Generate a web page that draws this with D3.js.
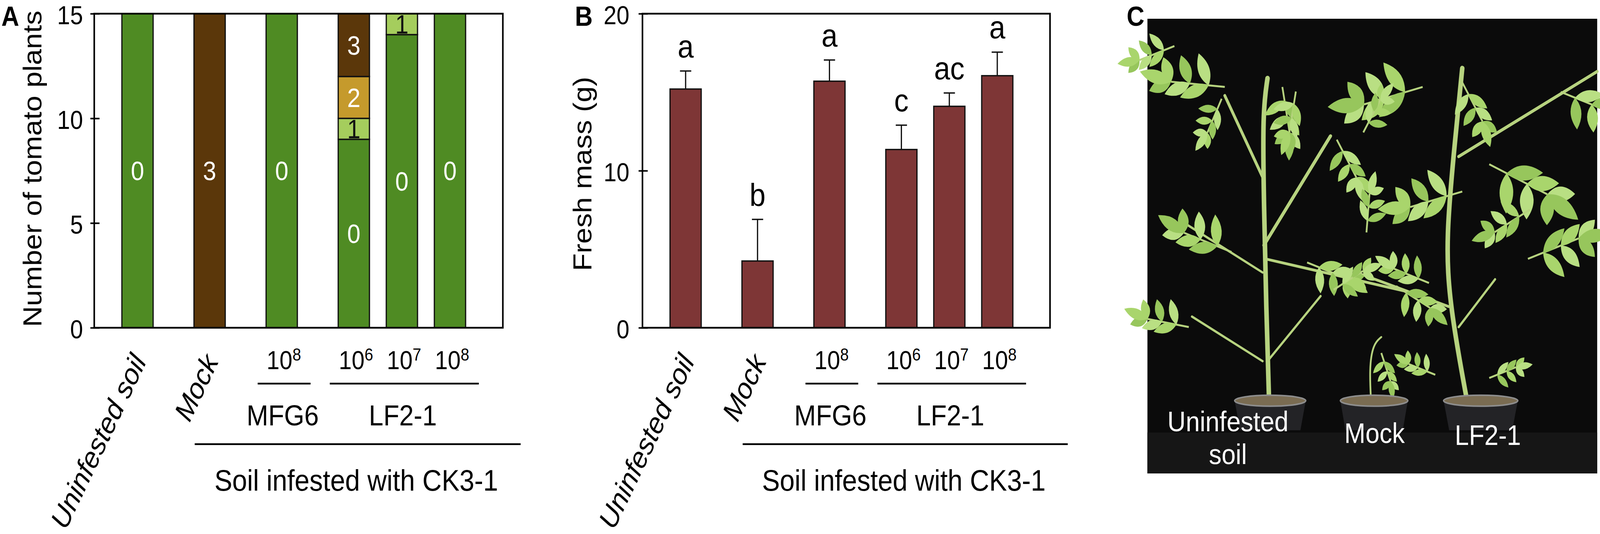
<!DOCTYPE html>
<html><head><meta charset="utf-8">
<script src="https://cdn.jsdelivr.net/npm/d3@7/dist/d3.min.js"></script>
<style>
html,body{margin:0;padding:0;background:#fff;overflow:hidden;width:100%;height:100%}
svg{display:block;width:100vw;height:100vh}
</style>
</head><body>
<svg id="fig" viewBox="0 0 4550 1367" preserveAspectRatio="none"></svg>
<script>
// ---------------- DATA ----------------
const categories   = ["Uninfested soil", "Mock", "MFG6 10^8", "LF2-1 10^6", "LF2-1 10^7", "LF2-1 10^8"];
const catGroup     = ["Uninfested", "Mock", "MFG6", "LF2-1", "LF2-1", "LF2-1"];
const catRotLabel  = ["Uninfested soil", "Mock", null, null, null, null];
const doseExponent = [null, null, "8", "6", "7", "8"];
const infestedLabel = "Soil infested with CK3-1";

// Panel A: number of plants per disease score (stack bottom -> top: 0,1,2,3)
const diseaseScores = ["0", "1", "2", "3"];
const plantsScore0 = [15, 0, 15, 9, 14, 15];
const plantsScore1 = [0, 0, 0, 1, 1, 0];
const plantsScore2 = [0, 0, 0, 2, 0, 0];
const plantsScore3 = [0, 15, 0, 3, 0, 0];
const ticksA = [0, 5, 10, 15];

// Panel B: fresh mass (g), SD, significance letters
const freshMass   = [15.2, 4.25, 15.7, 11.35, 14.1, 16.05];
const freshMassSD = [1.15, 2.65, 1.35, 1.55, 0.85, 1.5];
const sigLetters  = ["a", "b", "a", "c", "ac", "a"];
const ticksB = [0, 10, 20];

// Panel C: photo captions
const photoCaptions = [["Uninfested", "soil"], ["Mock"], ["LF2-1"]];

// ---------------- STYLE / LAYOUT ----------------
const FONT = '"Liberation Sans", Arial, Helvetica, sans-serif';
const scoreColor = {"0": "#4f8b23", "1": "#a5cd5d", "2": "#c59a2c", "3": "#5b370a"};
const scoreTextColor = {"0": "#fff", "1": "#111", "2": "#fff", "3": "#fff"};
const barB = "#7e3636";
const TOP = 35, BOTTOM = 839;

const svg = d3.select("#fig");

// category positions: 1.5 spacing between groups, 1 inside a group
const pos = [];
catGroup.forEach((g, i) => {
  pos.push(i === 0 ? 0 : pos[i - 1] + (g === catGroup[i - 1] ? 1 : 1.5));
});
const BARW = 0.65;

function makeX(r0, r1) { return d3.scaleLinear().domain([-0.9, 7.6]).range([r0, r1]); }

function drawYAxis(g, x0, y, ticks, pad) {
  const ax = g.append("g").attr("transform", `translate(${x0},0)`)
    .call(d3.axisLeft(y).tickValues(ticks).tickSize(11).tickPadding(pad));
  ax.select(".domain").remove();
  ax.attr("font-family", FONT).attr("font-size", 66);
  ax.selectAll(".tick line").attr("x1", 15).attr("stroke", "#000").attr("stroke-width", 4);
  ax.selectAll(".tick text").attr("fill", "#000").attr("dy", "0.4em");
}

function drawXAnnot(g, x) {
  // rotated italic category labels
  categories.forEach((c, i) => {
    if (!catRotLabel[i]) return;
    g.append("text")
      .attr("transform", `translate(${x(pos[i]) + 27},925) rotate(-62)`)
      .attr("text-anchor", "end").attr("font-style", "italic")
      .attr("font-family", FONT).attr("font-size", 75).text(catRotLabel[i]);
  });
  // dose labels 10^n
  categories.forEach((c, i) => {
    if (!doseExponent[i]) return;
    const t = g.append("text").attr("x", x(pos[i]) + 6).attr("y", 945)
      .attr("text-anchor", "middle").attr("font-family", FONT).attr("font-size", 66);
    t.append("tspan").text("10");
    t.append("tspan").attr("font-size", 44).attr("dy", -22).text(doseExponent[i]);
  });
  // strain brackets
  const strains = ["MFG6", "LF2-1"];
  strains.forEach(s => {
    const idx = catGroup.map((g2, i) => g2 === s ? i : -1).filter(i => i >= 0);
    const a = pos[idx[0]], b = pos[idx[idx.length - 1]];
    g.append("line").attr("x1", x(a - 0.5)).attr("x2", x(b + 0.6))
      .attr("y1", 982).attr("y2", 982).attr("stroke", "#000").attr("stroke-width", 4.5);
    g.append("text").attr("x", x(d3.mean(idx, i => pos[i]) + 0.02)).attr("y", 1089)
      .attr("text-anchor", "middle").attr("font-family", FONT).attr("font-size", 74).text(s);
  });
  // infested bracket
  const inf = catGroup.map((g2, i) => g2 !== "Uninfested" ? i : -1).filter(i => i >= 0);
  const l0 = x(pos[inf[0]] - 0.31), l1 = x(pos[inf[inf.length - 1]] + 1.47);
  g.append("line").attr("x1", l0).attr("x2", l1).attr("y1", 1137).attr("y2", 1137)
    .attr("stroke", "#000").attr("stroke-width", 4.5);
  g.append("text").attr("x", (l0 + l1) / 2 - 4).attr("y", 1256)
    .attr("text-anchor", "middle").attr("font-family", FONT).attr("font-size", 76).text(infestedLabel);
}

// ---------------- PANEL A ----------------
{
  const g = svg.append("g");
  const x = makeX(268, 1430);
  const y = d3.scaleLinear().domain([0, 15]).range([BOTTOM, TOP]);
  const rows = categories.map((c, i) => ({
    i, "0": plantsScore0[i], "1": plantsScore1[i], "2": plantsScore2[i], "3": plantsScore3[i]
  }));
  const series = d3.stack().keys(diseaseScores)(rows);
  series.forEach(s => {
    s.forEach(d => {
      if (d[1] - d[0] <= 0) return;
      const cx = x(pos[d.data.i]);
      const w = x(BARW) - x(0);
      g.append("rect").attr("x", cx - w / 2).attr("width", w)
        .attr("y", y(d[1])).attr("height", y(d[0]) - y(d[1]))
        .attr("fill", scoreColor[s.key]).attr("stroke", "#111").attr("stroke-width", 3.5);
    });
  });
  series.forEach(s => {
    s.forEach(d => {
      if (d[1] - d[0] <= 0) return;
      g.append("text").attr("x", x(pos[d.data.i])).attr("y", y((d[0] + d[1]) / 2))
        .attr("dy", "0.36em").attr("text-anchor", "middle")
        .attr("font-family", FONT).attr("font-size", 68)
        .attr("fill", scoreTextColor[s.key]).text(s.key);
    });
  });
  g.append("rect").attr("x", 268).attr("y", TOP).attr("width", 1430 - 268).attr("height", BOTTOM - TOP)
    .attr("fill", "none").attr("stroke", "#000").attr("stroke-width", 4.5);
  drawYAxis(g, 268, y, ticksA, 21);
  g.append("text").attr("transform", `translate(118,432) rotate(-90)`)
    .attr("text-anchor", "middle").attr("font-family", FONT).attr("font-size", 74)
    .text("Number of tomato plants");
  g.append("text").attr("x", 4).attr("y", 66).attr("font-family", FONT)
    .attr("font-weight", "bold").attr("font-size", 70).text("A");
  drawXAnnot(g, x);
}

// ---------------- PANEL B ----------------
{
  const g = svg.append("g");
  const x = makeX(1827, 2986);
  const y = d3.scaleLinear().domain([0, 20]).range([BOTTOM, TOP]);
  const w = x(BARW) - x(0);
  freshMass.forEach((v, i) => {
    const cx = x(pos[i]);
    const top = y(v), et = y(v + freshMassSD[i]);
    g.append("line").attr("x1", cx).attr("x2", cx).attr("y1", top).attr("y2", et)
      .attr("stroke", "#111").attr("stroke-width", 3.5);
    g.append("line").attr("x1", cx - 16).attr("x2", cx + 16).attr("y1", et).attr("y2", et)
      .attr("stroke", "#111").attr("stroke-width", 3.5);
    g.append("rect").attr("x", cx - w / 2).attr("width", w).attr("y", top)
      .attr("height", y(0) - top).attr("fill", barB).attr("stroke", "#111").attr("stroke-width", 3.5);
    g.append("text").attr("x", cx).attr("y", et - 35).attr("text-anchor", "middle")
      .attr("font-family", FONT).attr("font-size", 82).text(sigLetters[i]);
  });
  g.append("rect").attr("x", 1827).attr("y", TOP).attr("width", 2986 - 1827).attr("height", BOTTOM - TOP)
    .attr("fill", "none").attr("stroke", "#000").attr("stroke-width", 4.5);
  drawYAxis(g, 1827, y, ticksB, 26);
  g.append("text").attr("transform", `translate(1682,445) rotate(-90)`)
    .attr("text-anchor", "middle").attr("font-family", FONT).attr("font-size", 74)
    .text("Fresh mass (g)");
  g.append("text").attr("x", 1635).attr("y", 66).attr("font-family", FONT)
    .attr("font-weight", "bold").attr("font-size", 70).text("B");
  drawXAnnot(g, x);
}

// ---------------- PANEL C (photo sketch) ----------------
{
  const g = svg.append("g");
  const PX0 = 3263, PX1 = 4542, PY0 = 48, PY1 = 1212;
  const pu = d3.scaleLinear().domain([0, 1000]).range([PX0, PX1]);
  const pv = d3.scaleLinear().domain([0, 1000]).range([PY0, PY1]);
  const k = (PX1 - PX0) / 1000;
  g.append("text").attr("x", 3204).attr("y", 66).attr("font-family", FONT)
    .attr("font-weight", "bold").attr("font-size", 70).text("C");
  g.append("rect").attr("x", PX0).attr("y", PY0).attr("width", PX1 - PX0).attr("height", PY1 - PY0)
    .attr("fill", "#0b0b0b");
  g.append("rect").attr("x", PX0).attr("y", pv(910)).attr("width", PX1 - PX0).attr("height", PY1 - pv(910))
    .attr("fill", "#161616");

  // stylised plants (photo units 0-1000)
  const stems = [
    {w: 13, p: [[271, 858], [264, 633], [259, 408], [256, 206], [267, 131]]},
    {w: 8, p: [[256, 348], [172, 169]]},
    {w: 9, p: [[259, 498], [407, 258]]},
    {w: 6, p: [[256, 753], [99, 655]]},
    {w: 6, p: [[267, 753], [385, 610]]},
    {w: 7, p: [[262, 528], [590, 603]]},
    {w: 6, p: [[256, 558], [77, 446]]},
    {w: 13, p: [[714, 858], [672, 633], [663, 483], [685, 258], [700, 109]]},
    {w: 8, p: [[692, 303], [1000, 116]]},
    {w: 7, p: [[670, 633], [465, 558]]},
    {w: 6, p: [[692, 678], [773, 573]]},
    {w: 5, p: [[498, 854], [493, 768], [502, 715], [520, 700]]}
  ];
  // compound leaves: [u, v, size, direction in degrees (0 = right, 90 = down)]
  const fronds = [
    [172, 150, 80, 185], [165, 176, 50, 115], [300, 150, 62, 80], [330, 160, 55, 100],
    [421, 266, 58, 60], [187, 513, 75, 200], [355, 536, 62, 20], [487, 470, 52, 275],
    [553, 588, 58, 30], [92, 678, 62, 190], [414, 596, 50, 330], [612, 150, 90, 165],
    [700, 140, 60, 60], [919, 161, 75, 20], [760, 320, 95, 25], [700, 380, 80, 165],
    [626, 581, 55, 200], [846, 528, 80, 340], [640, 783, 42, 200], [760, 790, 42, 340],
    [520, 735, 40, 70], [60, 60, 55, 160], [480, 250, 50, 300], [850, 420, 60, 150]
  ];
  const line = d3.line().curve(d3.curveBasis).x(d => pu(d[0])).y(d => pv(d[1]));
  stems.forEach(s => g.append("path").attr("d", line(s.p)).attr("fill", "none")
    .attr("stroke", "#b7d37f").attr("stroke-width", s.w).attr("stroke-linecap", "round"));
  const leafCols = ["#a9d56c", "#b9df83", "#97c65c"];
  function leaf(bx, by, ang, L, W, col) {
    const ux = Math.cos(ang), uy = Math.sin(ang);
    const tx = bx + ux * L, ty = by + uy * L;
    const mx = bx + ux * L * 0.45, my = by + uy * L * 0.45;
    const px = -uy * W, py = ux * W;
    g.append("path")
      .attr("d", `M${bx},${by}Q${mx + px},${my + py} ${tx},${ty}Q${mx - px},${my - py} ${bx},${by}Z`)
      .attr("fill", col);
  }
  fronds.forEach((f, fi) => {
    const bx = pu(f[0]), by = pv(f[1]), r = f[2] * k, a = f[3] * Math.PI / 180;
    const ux = Math.cos(a), uy = Math.sin(a);
    const ex = bx + ux * r * 1.5, ey = by + uy * r * 1.5;
    g.append("line").attr("x1", bx).attr("y1", by).attr("x2", ex).attr("y2", ey)
      .attr("stroke", "#b7d37f").attr("stroke-width", 5);
    [0.3, 0.65, 1.0].forEach((t, ti) => {
      const sx = bx + ux * r * 1.5 * t, sy = by + uy * r * 1.5 * t;
      leaf(sx, sy, a - 0.8 + 0.35, r * (0.85 - ti * 0.1), r * 0.32, leafCols[(fi + ti) % 3]);
      leaf(sx, sy, a + 0.8 + 0.35, r * (0.85 - ti * 0.1), r * 0.32, leafCols[(fi + ti + 1) % 3]);
    });
    leaf(ex, ey, a + 0.2, r * 0.9, r * 0.34, leafCols[fi % 3]);
  });
  // pots
  const pots = [[273, 158], [504, 150], [741, 165]];
  pots.forEach(p => {
    const cx = pu(p[0]), hw = p[1] * k / 2, yr = pv(840), yb = pv(905);
    g.append("path").attr("d", `M${cx - hw},${yr}L${cx + hw},${yr}L${cx + hw * 0.85},${yb}L${cx - hw * 0.85},${yb}Z`)
      .attr("fill", "#232326");
    g.append("ellipse").attr("cx", cx).attr("cy", yr).attr("rx", hw).attr("ry", 14)
      .attr("fill", "#7a6c52").attr("stroke", "#8d8d8d").attr("stroke-width", 4);
  });
  // captions
  const capX = [179, 505, 757];
  const capY = [[1104, 1188], [1134], [1139]];
  photoCaptions.forEach((lines, i) => {
    lines.forEach((t, j) => {
      g.append("text").attr("x", pu(capX[i])).attr("y", capY[i][j]).attr("text-anchor", "middle")
        .attr("font-family", FONT).attr("font-size", 72).attr("fill", "#fff").text(t);
    });
  });
}
</script>
</body></html>
